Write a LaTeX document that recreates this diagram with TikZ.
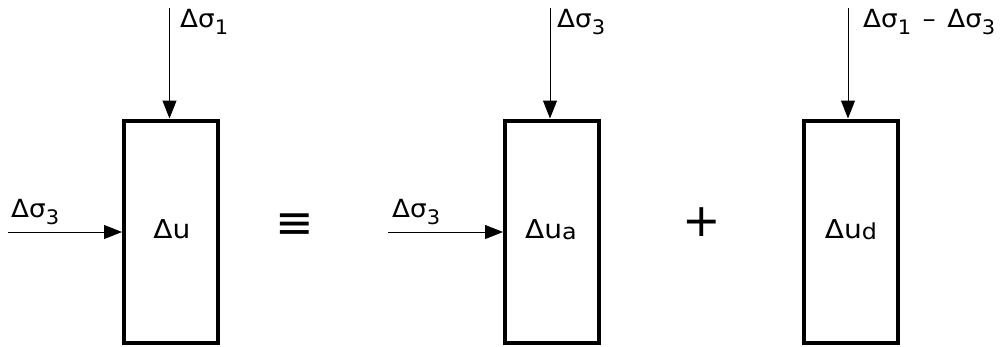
\documentclass[tikz,border=0pt]{standalone}
\usepackage{fontspec}
\usepackage{graphicx}
\setmainfont{DejaVu Sans}
\usetikzlibrary{arrows.meta}
\newcommand\lo[3]{\raisebox{-#1pt}{\fontsize{#2}{#2}\selectfont #3}}
\newcommand\wider[2]{\scalebox{#1}[1]{#2}}
\begin{document}
\begin{tikzpicture}[x=1pt,y=-1pt,
  elem/.style={draw, line width=4pt, minimum width=94pt, minimum height=222pt, inner sep=0pt},
  force/.style={-{Triangle[length=18pt,width=14pt]}, line width=1pt},
  toplab/.style={anchor=base west, inner sep=0pt, font=\fontsize{25}{28}\selectfont},
  sidelab/.style={anchor=base west, inner sep=0pt, font=\fontsize{25}{28}\selectfont},
  inlab/.style={anchor=base, inner sep=0pt, font=\fontsize{26}{30}\selectfont},
  opsym/.style={inner sep=0pt, font=\fontsize{46}{50}\selectfont}]
\useasboundingbox (0,0) rectangle (1002,346);
% elements
\node[elem] (b1) at (171,231.5) {};
\node[elem] (b2) at (552,231.5) {};
\node[elem] (b3) at (850.5,231.5) {};
% inner labels
\node[inlab] (u1) at (172,238) {\wider{1.08}{Δu}};
\node[inlab] (u2) at (551,238) {\wider{1.08}{Δu\lo{1.5}{22}{a}}};
\node[inlab] (u3) at (851,238) {\wider{1.08}{Δu\lo{1.5}{22}{d}}};
% force start points
\coordinate (v1) at (169.5,8);
\coordinate (v2) at (550,8);
\coordinate (v3) at (848,8);
\coordinate (h1) at (8,232);
\coordinate (h2) at (388,232);
% forces
\draw[force] (v1) -- (v1 |- b1.north);
\draw[force] (v2) -- (v2 |- b2.north);
\draw[force] (v3) -- (v3 |- b3.north);
\draw[force] (h1) -- (h1 -| b1.west);
\draw[force] (h2) -- (h2 -| b2.west);
% force labels
\node[toplab] (l1) at (180,27) {\wider{1.05}{Δσ\lo{7}{20}{1}}};
\node[toplab] (l2) at (557,27) {\wider{1.05}{Δσ\lo{7}{20}{3}}};
\node[toplab] (l3) at (863,27) {\wider{1.05}{Δσ\lo{7}{20}{1}\hspace{11pt}–\hspace{11pt}Δσ\lo{7}{20}{3}}};
\node[sidelab] (s1) at (11,217) {\wider{1.05}{Δσ\lo{7}{20}{3}}};
\node[sidelab] (s2) at (392,217) {\wider{1.05}{Δσ\lo{7}{20}{3}}};
% operators
\node[opsym] (eq) at (295,226) {≡};
\node[opsym] (pl) at (702,222.5) {+};
\end{tikzpicture}
\end{document}
